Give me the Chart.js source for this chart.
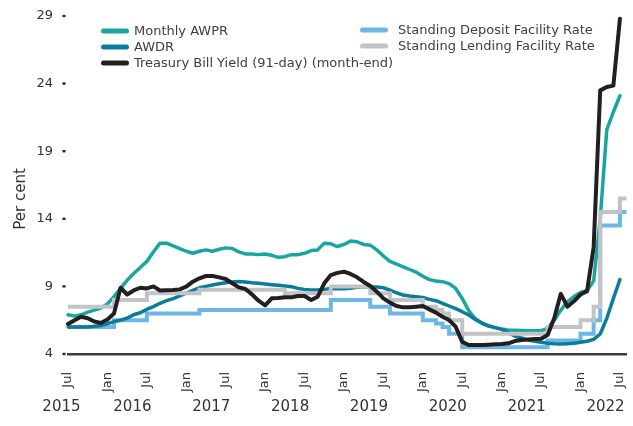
<!DOCTYPE html>
<html>
<head>
<meta charset="utf-8">
<script src="https://cdn.jsdelivr.net/npm/chart.js@4"></script>
<style>
  html, body { margin: 0; padding: 0; background: #fff; }
  #wrap { width: 633px; height: 426px; position: relative; }
</style>
</head>
<body>
<div id="wrap"><canvas id="chart"></canvas></div>
<script>
// months Jul 2015 .. Aug 2022
const months = [
  'Jul 2015', 'Aug 2015', 'Sep 2015', 'Oct 2015', 'Nov 2015', 'Dec 2015',
  'Jan 2016', 'Feb 2016', 'Mar 2016', 'Apr 2016', 'May 2016', 'Jun 2016',
  'Jul 2016', 'Aug 2016', 'Sep 2016', 'Oct 2016', 'Nov 2016', 'Dec 2016',
  'Jan 2017', 'Feb 2017', 'Mar 2017', 'Apr 2017', 'May 2017', 'Jun 2017',
  'Jul 2017', 'Aug 2017', 'Sep 2017', 'Oct 2017', 'Nov 2017', 'Dec 2017',
  'Jan 2018', 'Feb 2018', 'Mar 2018', 'Apr 2018', 'May 2018', 'Jun 2018',
  'Jul 2018', 'Aug 2018', 'Sep 2018', 'Oct 2018', 'Nov 2018', 'Dec 2018',
  'Jan 2019', 'Feb 2019', 'Mar 2019', 'Apr 2019', 'May 2019', 'Jun 2019',
  'Jul 2019', 'Aug 2019', 'Sep 2019', 'Oct 2019', 'Nov 2019', 'Dec 2019',
  'Jan 2020', 'Feb 2020', 'Mar 2020', 'Apr 2020', 'May 2020', 'Jun 2020',
  'Jul 2020', 'Aug 2020', 'Sep 2020', 'Oct 2020', 'Nov 2020', 'Dec 2020',
  'Jan 2021', 'Feb 2021', 'Mar 2021', 'Apr 2021', 'May 2021', 'Jun 2021',
  'Jul 2021', 'Aug 2021', 'Sep 2021', 'Oct 2021', 'Nov 2021', 'Dec 2021',
  'Jan 2022', 'Feb 2022', 'Mar 2022', 'Apr 2022', 'May 2022', 'Jun 2022',
  'Jul 2022', 'Aug 2022'
];
const yearLabels = ['2015', '2016', '2017', '2018', '2019', '2020', '2021', '2022'];
const yTicks = [4, 9, 14, 19, 24, 29];

const awpr = [
  6.9, 6.8, 6.9, 7.1, 7.25, 7.4, 7.7, 8.25, 8.85, 9.45, 9.95, 10.4,
  10.85, 11.55, 12.2, 12.2, 12.0, 11.8, 11.6, 11.45, 11.6, 11.7, 11.6, 11.75,
  11.85, 11.8, 11.55, 11.4, 11.4, 11.35, 11.4, 11.3, 11.15, 11.2, 11.35, 11.35,
  11.45, 11.65, 11.7, 12.2, 12.15, 11.95, 12.1, 12.35, 12.3, 12.1, 12.05, 11.7,
  11.25, 10.85, 10.65, 10.45, 10.25, 10.05, 9.75, 9.5, 9.4, 9.35, 9.2, 8.85,
  8.1, 7.2, 6.6, 6.3, 6.1, 5.95, 5.85, 5.78, 5.75, 5.73, 5.72, 5.72,
  5.73, 5.9, 6.5, 7.25, 7.85, 8.25, 8.55, 8.7, 9.4, 14.0, 20.6, 21.9,
  23.1, null
];
const awdr = [
  6.0, 6.0, 6.0, 6.0, 6.05, 6.1, 6.25, 6.4, 6.5, 6.65, 6.9, 7.05,
  7.3, 7.5, 7.75, 7.95, 8.1, 8.3, 8.5, 8.7, 8.9, 9.0, 9.1, 9.2,
  9.27, 9.33, 9.37, 9.33, 9.27, 9.23, 9.18, 9.13, 9.08, 9.03, 8.98, 8.85,
  8.78, 8.73, 8.73, 8.78, 8.85, 8.82, 8.83, 8.87, 8.93, 8.97, 8.97, 8.95,
  8.9, 8.73, 8.53, 8.36, 8.29, 8.24, 8.18, 8.04, 7.94, 7.75, 7.55, 7.35,
  7.13, 6.88, 6.55, 6.27, 6.07, 5.95, 5.82, 5.58, 5.33, 5.18, 5.04, 4.94,
  4.87, 4.8, 4.76, 4.74, 4.76, 4.79, 4.87, 4.94, 5.08, 5.48, 6.64, 8.1,
  9.5, null
];
const tbill = [
  6.22, 6.5, 6.75, 6.65, 6.4, 6.3, 6.55, 7.0, 8.9, 8.4, 8.7, 8.9,
  8.85, 9.0, 8.7, 8.72, 8.73, 8.78, 8.98, 9.35, 9.6, 9.77, 9.77, 9.67,
  9.55, 9.23, 8.93, 8.81, 8.41, 7.94, 7.6, 8.12, 8.14, 8.19, 8.19, 8.29,
  8.29, 7.99, 8.24, 9.23, 9.84, 10.0, 10.09, 9.92, 9.67, 9.33, 9.03, 8.61,
  8.12, 7.8, 7.55, 7.45, 7.45, 7.5, 7.55, 7.3, 7.06, 6.76, 6.51, 6.02,
  4.9, 4.67, 4.67, 4.67, 4.69, 4.72, 4.74, 4.79, 4.96, 5.04, 5.08, 5.11,
  5.13, 5.4, 6.64, 8.45, 7.5, 7.9, 8.4, 8.65, 11.9, 23.5, 23.75, 23.85,
  28.8, null
];
const sdfr = [
  6.0, 6.0, 6.0, 6.0, 6.0, 6.0, 6.0, 6.5, 6.5, 6.5, 6.5, 6.5,
  7.0, 7.0, 7.0, 7.0, 7.0, 7.0, 7.0, 7.0, 7.25, 7.25, 7.25, 7.25,
  7.25, 7.25, 7.25, 7.25, 7.25, 7.25, 7.25, 7.25, 7.25, 7.25, 7.25, 7.25,
  7.25, 7.25, 7.25, 7.25, 8.0, 8.0, 8.0, 8.0, 8.0, 8.0, 7.5, 7.5,
  7.5, 7.0, 7.0, 7.0, 7.0, 7.0, 6.5, 6.5, 6.25, 6.0, 5.5, 5.5,
  4.5, 4.5, 4.5, 4.5, 4.5, 4.5, 4.5, 4.5, 4.5, 4.5, 4.5, 4.5,
  4.5, 5.0, 5.0, 5.0, 5.0, 5.0, 5.5, 5.5, 6.5, 13.5, 13.5, 13.5,
  14.5, 14.5
];
const slfr = [
  7.5, 7.5, 7.5, 7.5, 7.5, 7.5, 7.5, 8.0, 8.0, 8.0, 8.0, 8.0,
  8.5, 8.5, 8.5, 8.5, 8.5, 8.5, 8.5, 8.5, 8.75, 8.75, 8.75, 8.75,
  8.75, 8.75, 8.75, 8.75, 8.75, 8.75, 8.75, 8.75, 8.75, 8.5, 8.5, 8.5,
  8.5, 8.5, 8.5, 8.5, 9.0, 9.0, 9.0, 9.0, 9.0, 9.0, 8.5, 8.5,
  8.5, 8.0, 8.0, 8.0, 8.0, 8.0, 7.5, 7.5, 7.25, 7.0, 6.5, 6.5,
  5.5, 5.5, 5.5, 5.5, 5.5, 5.5, 5.5, 5.5, 5.5, 5.5, 5.5, 5.5,
  5.5, 6.0, 6.0, 6.0, 6.0, 6.0, 6.5, 6.5, 7.5, 14.5, 14.5, 14.5,
  15.5, 15.5
];

const FONT = 'DejaVu Sans';

// legend in two columns, years under the month ticks, y title and tick dashes
const extras = {
  id: 'extras',
  afterDraw(chart) {
    const ctx = chart.ctx;
    const x = chart.scales.x;
    const y = chart.scales.y;
    const ds = chart.data.datasets;
    ctx.save();

    // small dashes next to the y tick numbers
    ctx.fillStyle = '#222';
    y.ticks.forEach(t => {
      const py = y.getPixelForValue(t.value);
      ctx.fillRect(62.5, py - 1.2, 3, 2.4);
    });

    // years
    ctx.fillStyle = '#333';
    ctx.font = '15px "' + FONT + '"';
    ctx.textAlign = 'center';
    ctx.textBaseline = 'middle';
    const step = x.getPixelForValue(1) - x.getPixelForValue(0);
    yearLabels.forEach((yr, k) => {
      const idx = Math.max(-1, k * 12 - 2.2);
      ctx.fillText(yr, x.getPixelForValue(0) + idx * step, 407);
    });

    // y axis title
    ctx.save();
    ctx.translate(21, 199);
    ctx.rotate(-Math.PI / 2);
    ctx.fillStyle = '#333';
    ctx.font = '15px "' + FONT + '"';
    ctx.fillText('Per cent', 0, 0);
    ctx.restore();

    // legend
    const items = [
      [0, 101, 31], [1, 101, 47], [2, 101, 63],
      [3, 360, 30], [4, 360, 46]
    ];
    ctx.font = '13px "' + FONT + '"';
    ctx.textAlign = 'left';
    ctx.lineCap = 'round';
    ctx.lineWidth = 5;
    items.forEach(([i, lx, ly]) => {
      ctx.strokeStyle = ds[i].borderColor;
      ctx.beginPath();
      ctx.moveTo(lx + 2.5, ly);
      ctx.lineTo(lx + 25.5, ly);
      ctx.stroke();
      ctx.fillStyle = '#404040';
      ctx.fillText(ds[i].label, lx + (i < 3 ? 33 : 38), ly + 0.5);
    });
    ctx.restore();
  }
};

new Chart(document.getElementById('chart'), {
  type: 'line',
  data: {
    labels: months,
    datasets: [
      { label: 'Monthly AWPR', data: awpr, borderColor: '#1aa6a0', borderWidth: 3.5, order: 3 },
      { label: 'AWDR', data: awdr, borderColor: '#0b7c9c', borderWidth: 3.5, order: 2 },
      { label: 'Treasury Bill Yield (91-day) (month-end)', data: tbill, borderColor: '#231f20', borderWidth: 4, order: 0 },
      { label: 'Standing Deposit Facility Rate', data: sdfr, borderColor: '#6db6e6', borderWidth: 4, stepped: true, order: 4, borderJoinStyle: 'miter', borderCapStyle: 'butt' },
      { label: 'Standing Lending Facility Rate', data: slfr, borderColor: '#c2c3c7', borderWidth: 4, stepped: true, order: 1, borderJoinStyle: 'miter', borderCapStyle: 'butt' }
    ]
  },
  options: {
    responsive: true,
    maintainAspectRatio: false,
    animation: false,
    layout: { padding: { top: 16, right: 6.5, bottom: 0, left: 0 } },
    elements: {
      point: { radius: 0 },
      line: { tension: 0, borderJoinStyle: 'round', borderCapStyle: 'round' }
    },
    plugins: { legend: { display: false }, tooltip: { enabled: false } },
    scales: {
      x: {
        offset: false,
        grid: { display: true, drawOnChartArea: false, drawTicks: false },
        border: { display: true, color: '#3d3d3d', width: 2.5 },
        ticks: {
          autoSkip: false,
          minRotation: 90,
          maxRotation: 90,
          padding: 18,
          color: '#333',
          font: { family: FONT, size: 13 },
          callback: function (v) {
            const m = months[v].slice(0, 3);
            return (m === 'Jul' || m === 'Jan') ? m : '';
          }
        },
        afterFit: s => {
          s.height = 72;
          s.paddingLeft = 0;
          s.paddingRight = 0;
        }
      },
      y: {
        min: yTicks[0],
        max: yTicks[yTicks.length - 1],
        grid: { display: true, drawOnChartArea: false, drawTicks: false },
        border: { display: false },
        ticks: {
          stepSize: 5,
          padding: 15,
          color: '#333',
          font: { family: FONT, size: 13 }
        },
        afterFit: s => {
          s.width = 68;
          s.paddingTop = 0;
          s.paddingBottom = 0;
        }
      }
    }
  },
  plugins: [extras]
});
</script>
</body>
</html>
